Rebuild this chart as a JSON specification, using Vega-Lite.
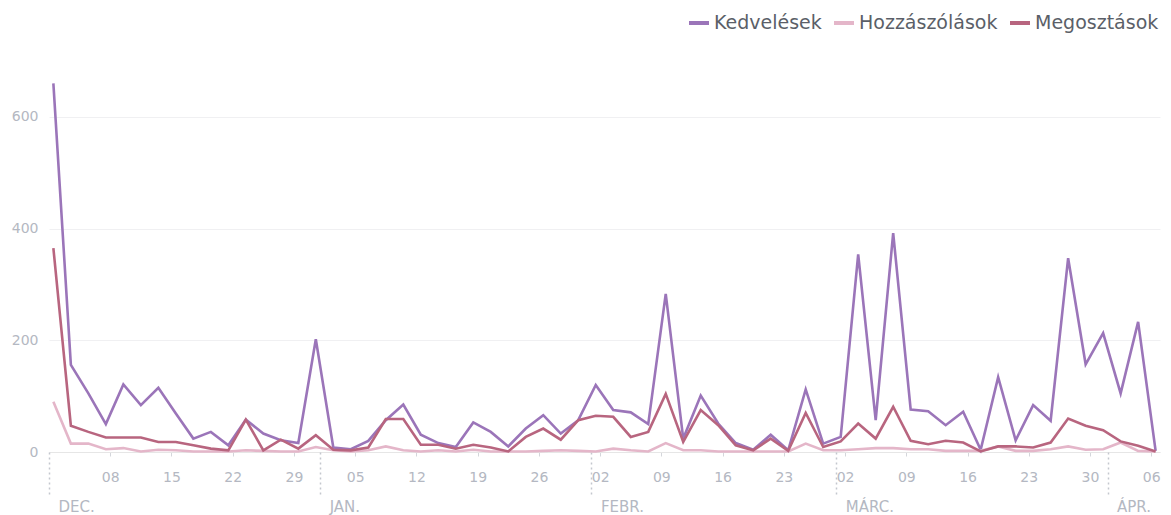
{
  "$schema": "https://vega.github.io/schema/vega-lite/v6.json",
  "width": 1111,
  "height": 391,
  "autosize": {"type": "none"},
  "padding": {"left": 49, "top": 61, "right": 11, "bottom": 63},
  "background": "#ffffff",
  "config": {
    "view": {"stroke": null},
    "font": "DejaVu Sans"
  },
  "resolve": {"axis": {"x": "independent"}},
  "layer": [
    {
      "data": {
        "values": [
          {"date": "2014-12-01T12:00:00", "Kedvelések": 660, "Hozzászólások": 90, "Megosztások": 365},
          {"date": "2014-12-03T12:00:00", "Kedvelések": 156, "Hozzászólások": 15, "Megosztások": 47},
          {"date": "2014-12-05T12:00:00", "Kedvelések": 105, "Hozzászólások": 15, "Megosztások": 36},
          {"date": "2014-12-07T12:00:00", "Kedvelések": 50, "Hozzászólások": 5, "Megosztások": 26},
          {"date": "2014-12-09T12:00:00", "Kedvelések": 121, "Hozzászólások": 7, "Megosztások": 26},
          {"date": "2014-12-11T12:00:00", "Kedvelések": 84, "Hozzászólások": 1, "Megosztások": 26},
          {"date": "2014-12-13T12:00:00", "Kedvelések": 115, "Hozzászólások": 4, "Megosztások": 18},
          {"date": "2014-12-15T12:00:00", "Kedvelések": 69, "Hozzászólások": 3, "Megosztások": 18},
          {"date": "2014-12-17T12:00:00", "Kedvelések": 24, "Hozzászólások": 1, "Megosztások": 12},
          {"date": "2014-12-19T12:00:00", "Kedvelések": 36, "Hozzászólások": 1, "Megosztások": 6},
          {"date": "2014-12-21T12:00:00", "Kedvelések": 12, "Hozzászólások": 1, "Megosztások": 3},
          {"date": "2014-12-23T12:00:00", "Kedvelések": 58, "Hozzászólások": 3, "Megosztások": 58},
          {"date": "2014-12-25T12:00:00", "Kedvelések": 33, "Hozzászólások": 2, "Megosztások": 3},
          {"date": "2014-12-27T12:00:00", "Kedvelések": 21, "Hozzászólások": 1, "Megosztások": 22},
          {"date": "2014-12-29T12:00:00", "Kedvelések": 16, "Hozzászólások": 1, "Megosztások": 6},
          {"date": "2014-12-31T12:00:00", "Kedvelések": 202, "Hozzászólások": 9, "Megosztások": 30},
          {"date": "2015-01-02T12:00:00", "Kedvelések": 8, "Hozzászólások": 3, "Megosztások": 4},
          {"date": "2015-01-04T12:00:00", "Kedvelések": 5, "Hozzászólások": 1, "Megosztások": 3},
          {"date": "2015-01-06T12:00:00", "Kedvelések": 20, "Hozzászólások": 3, "Megosztások": 8},
          {"date": "2015-01-08T12:00:00", "Kedvelések": 57, "Hozzászólások": 10, "Megosztások": 59},
          {"date": "2015-01-10T12:00:00", "Kedvelések": 85, "Hozzászólások": 3, "Megosztások": 59},
          {"date": "2015-01-12T12:00:00", "Kedvelések": 31, "Hozzászólások": 1, "Megosztások": 13},
          {"date": "2015-01-14T12:00:00", "Kedvelések": 16, "Hozzászólások": 3, "Megosztások": 13},
          {"date": "2015-01-16T12:00:00", "Kedvelések": 9, "Hozzászólások": 1, "Megosztások": 6},
          {"date": "2015-01-18T12:00:00", "Kedvelések": 53, "Hozzászólások": 4, "Megosztások": 13},
          {"date": "2015-01-20T12:00:00", "Kedvelések": 36, "Hozzászólások": 1, "Megosztások": 8},
          {"date": "2015-01-22T12:00:00", "Kedvelések": 10, "Hozzászólások": 1, "Megosztások": 1},
          {"date": "2015-01-24T12:00:00", "Kedvelések": 42, "Hozzászólások": 1, "Megosztások": 27},
          {"date": "2015-01-26T12:00:00", "Kedvelések": 66, "Hozzászólások": 2, "Megosztások": 42},
          {"date": "2015-01-28T12:00:00", "Kedvelések": 33, "Hozzászólások": 3, "Megosztások": 22},
          {"date": "2015-01-30T12:00:00", "Kedvelések": 57, "Hozzászólások": 2, "Megosztások": 57},
          {"date": "2015-02-01T12:00:00", "Kedvelések": 120, "Hozzászólások": 1, "Megosztások": 65},
          {"date": "2015-02-03T12:00:00", "Kedvelések": 75, "Hozzászólások": 6, "Megosztások": 63},
          {"date": "2015-02-05T12:00:00", "Kedvelések": 71, "Hozzászólások": 3, "Megosztások": 27},
          {"date": "2015-02-07T12:00:00", "Kedvelések": 50, "Hozzászólások": 1, "Megosztások": 36},
          {"date": "2015-02-09T12:00:00", "Kedvelések": 283, "Hozzászólások": 16, "Megosztások": 104},
          {"date": "2015-02-11T12:00:00", "Kedvelések": 24, "Hozzászólások": 3, "Megosztások": 18},
          {"date": "2015-02-13T12:00:00", "Kedvelések": 101, "Hozzászólások": 3, "Megosztások": 75},
          {"date": "2015-02-15T12:00:00", "Kedvelések": 51, "Hozzászólások": 1, "Megosztások": 48},
          {"date": "2015-02-17T12:00:00", "Kedvelések": 16, "Hozzászólások": 1, "Megosztások": 12},
          {"date": "2015-02-19T12:00:00", "Kedvelések": 4, "Hozzászólások": 1, "Megosztások": 3},
          {"date": "2015-02-21T12:00:00", "Kedvelések": 31, "Hozzászólások": 1, "Megosztások": 24},
          {"date": "2015-02-23T12:00:00", "Kedvelések": 3, "Hozzászólások": 1, "Megosztások": 2},
          {"date": "2015-02-25T12:00:00", "Kedvelések": 112, "Hozzászólások": 15, "Megosztások": 70},
          {"date": "2015-02-27T12:00:00", "Kedvelések": 15, "Hozzászólások": 3, "Megosztások": 9},
          {"date": "2015-03-01T12:00:00", "Kedvelések": 27, "Hozzászólások": 3, "Megosztások": 19},
          {"date": "2015-03-03T12:00:00", "Kedvelések": 354, "Hozzászólások": 5, "Megosztások": 51},
          {"date": "2015-03-05T12:00:00", "Kedvelések": 57, "Hozzászólások": 7, "Megosztások": 24},
          {"date": "2015-03-07T12:00:00", "Kedvelések": 392, "Hozzászólások": 7, "Megosztások": 81},
          {"date": "2015-03-09T12:00:00", "Kedvelések": 76, "Hozzászólások": 5, "Megosztások": 20},
          {"date": "2015-03-11T12:00:00", "Kedvelések": 73, "Hozzászólások": 5, "Megosztások": 14},
          {"date": "2015-03-13T12:00:00", "Kedvelések": 48, "Hozzászólások": 2, "Megosztások": 20},
          {"date": "2015-03-15T12:00:00", "Kedvelések": 72, "Hozzászólások": 2, "Megosztások": 17},
          {"date": "2015-03-17T12:00:00", "Kedvelések": 4, "Hozzászólások": 2, "Megosztások": 1},
          {"date": "2015-03-19T12:00:00", "Kedvelések": 134, "Hozzászólások": 10, "Megosztások": 10},
          {"date": "2015-03-21T12:00:00", "Kedvelések": 21, "Hozzászólások": 2, "Megosztások": 10},
          {"date": "2015-03-23T12:00:00", "Kedvelések": 84, "Hozzászólások": 2, "Megosztások": 8},
          {"date": "2015-03-25T12:00:00", "Kedvelések": 56, "Hozzászólások": 5, "Megosztások": 17},
          {"date": "2015-03-27T12:00:00", "Kedvelések": 347, "Hozzászólások": 10, "Megosztások": 60},
          {"date": "2015-03-29T12:00:00", "Kedvelések": 157, "Hozzászólások": 4, "Megosztások": 47},
          {"date": "2015-03-31T12:00:00", "Kedvelések": 213, "Hozzászólások": 5, "Megosztások": 39},
          {"date": "2015-04-02T12:00:00", "Kedvelések": 105, "Hozzászólások": 17, "Megosztások": 19},
          {"date": "2015-04-04T12:00:00", "Kedvelések": 233, "Hozzászólások": 2, "Megosztások": 11},
          {"date": "2015-04-06T12:00:00", "Kedvelések": 2, "Hozzászólások": 1, "Megosztások": 1}
        ]
      },
      "transform": [
        {"fold": ["Kedvelések", "Hozzászólások", "Megosztások"], "as": ["series", "value"]}
      ],
      "mark": {"type": "line", "strokeWidth": 2.6, "strokeJoin": "miter"},
      "encoding": {
        "x": {
          "field": "date",
          "type": "temporal",
          "scale": {"domain": [{"year": 2014, "month": 12, "date": 1}, {"year": 2015, "month": 4, "date": 7}]},
          "axis": {
            "orient": "bottom",
            "title": null,
            "format": "%d",
            "values": [
              {"year": 2014, "month": 12, "date": 8},
              {"year": 2014, "month": 12, "date": 15},
              {"year": 2014, "month": 12, "date": 22},
              {"year": 2014, "month": 12, "date": 29},
              {"year": 2015, "month": 1, "date": 5},
              {"year": 2015, "month": 1, "date": 12},
              {"year": 2015, "month": 1, "date": 19},
              {"year": 2015, "month": 1, "date": 26},
              {"year": 2015, "month": 2, "date": 2},
              {"year": 2015, "month": 2, "date": 9},
              {"year": 2015, "month": 2, "date": 16},
              {"year": 2015, "month": 2, "date": 23},
              {"year": 2015, "month": 3, "date": 2},
              {"year": 2015, "month": 3, "date": 9},
              {"year": 2015, "month": 3, "date": 16},
              {"year": 2015, "month": 3, "date": 23},
              {"year": 2015, "month": 3, "date": 30},
              {"year": 2015, "month": 4, "date": 6}
            ],
            "grid": false,
            "domain": true,
            "domainColor": "#e6e6e6",
            "domainWidth": 1,
            "ticks": true,
            "tickSize": 4,
            "tickColor": "#d4d6db",
            "labelColor": "#b4b8c2",
            "labelFont": "DejaVu Sans",
            "labelFontSize": 14,
            "labelPadding": 14,
            "labelFlush": false,
            "labelOverlap": false
          }
        },
        "y": {
          "field": "value",
          "type": "quantitative",
          "scale": {"domain": [0, 700], "nice": false},
          "axis": {
            "title": null,
            "values": [0, 200, 400, 600],
            "domain": false,
            "ticks": false,
            "grid": true,
            "gridColor": "#f0f0f2",
            "gridWidth": 1,
            "labelColor": "#b4b8c2",
            "labelFont": "DejaVu Sans",
            "labelFontSize": 14,
            "labelPadding": 11
          }
        },
        "color": {
          "field": "series",
          "type": "nominal",
          "scale": {
            "domain": ["Kedvelések", "Hozzászólások", "Megosztások"],
            "range": ["#9b75b9", "#e4b6c9", "#b8657f"]
          },
          "legend": {
            "title": null,
            "orient": "none",
            "direction": "horizontal",
            "legendX": 638,
            "legendY": -50,
            "padding": 0,
            "symbolType": "stroke",
            "symbolSize": 400,
            "symbolStrokeWidth": 4,
            "labelFont": "DejaVu Sans",
            "labelFontSize": 19,
            "labelColor": "#5b5f68",
            "labelOffset": 3,
            "columnPadding": 4
          }
        }
      }
    },
    {
      "data": {
        "values": [
          {"month": "2014-12-01T00:00:00"},
          {"month": "2015-01-01T00:00:00"},
          {"month": "2015-02-01T00:00:00"},
          {"month": "2015-03-01T00:00:00"},
          {"month": "2015-04-01T00:00:00"}
        ]
      },
      "mark": {"type": "rule", "opacity": 0},
      "encoding": {
        "x": {
          "field": "month",
          "type": "temporal",
          "axis": {
            "orient": "bottom",
            "title": null,
            "values": [
              {"year": 2014, "month": 12, "date": 1},
              {"year": 2015, "month": 1, "date": 1},
              {"year": 2015, "month": 2, "date": 1},
              {"year": 2015, "month": 3, "date": 1},
              {"year": 2015, "month": 4, "date": 1}
            ],
            "labelExpr": "['JAN.','FEBR.','MÁRC.','ÁPR.','MÁJ.','JÚN.','JÚL.','AUG.','SZEPT.','OKT.','NOV.','DEC.'][month(datum.value)]",
            "grid": false,
            "domain": false,
            "ticks": true,
            "tickSize": 45,
            "tickDash": [2, 3],
            "tickWidth": 1.5,
            "tickColor": "#c4c7ce",
            "labelAlign": "left",
            "labelBaseline": "top",
            "labelOffset": 9,
            "labelPadding": 2,
            "labelColor": "#b4b8c2",
            "labelFont": "DejaVu Sans",
            "labelFontSize": 15,
            "labelFlush": false,
            "labelOverlap": false
          }
        }
      }
    }
  ]
}
